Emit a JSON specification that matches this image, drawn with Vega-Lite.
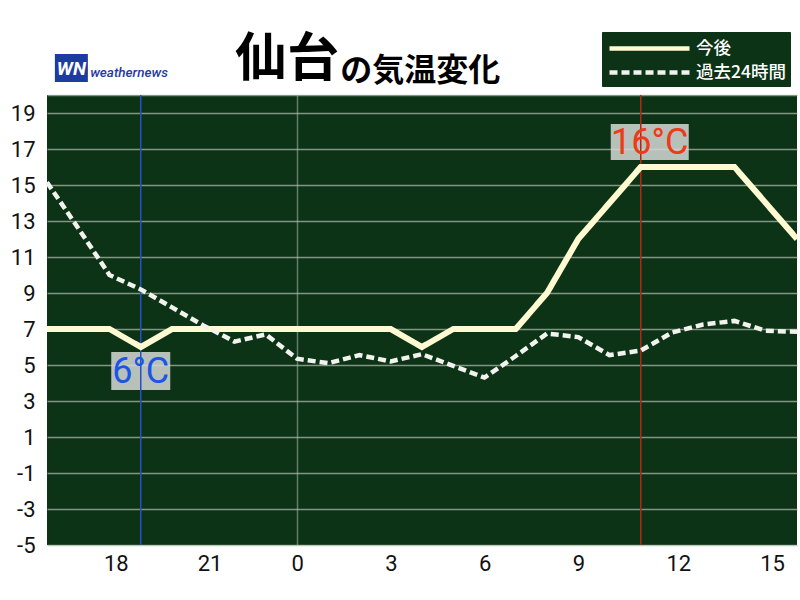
{
  "$schema": "https://vega.github.io/schema/vega-lite/v6.json",
  "width": 750,
  "height": 450,
  "autosize": {"type": "none"},
  "padding": {"left": 47, "top": 95, "right": 3, "bottom": 55},
  "background": "#ffffff",
  "title": {
    "text": "仙台",
    "anchor": "start",
    "frame": "group",
    "dx": 188,
    "offset": -55,
    "font": "Noto Sans CJK JP",
    "fontSize": 52,
    "fontWeight": "bold",
    "color": "#000000"
  },
  "config": {
    "view": {"fill": "#0c3316", "stroke": null},
    "axis": {
      "labelFont": "Roboto",
      "labelFontSize": 22,
      "labelColor": "#111111",
      "labelOverlap": false,
      "ticks": false,
      "domain": false,
      "title": null,
      "gridColor": "#a9b8a9",
      "gridOpacity": 0.75,
      "gridWidth": 1.5
    }
  },
  "datasets": {
    "temps": [
      {"hour": 16, "temp": 7, "series": "今後"},
      {"hour": 17, "temp": 7, "series": "今後"},
      {"hour": 18, "temp": 7, "series": "今後"},
      {"hour": 19, "temp": 6, "series": "今後"},
      {"hour": 20, "temp": 7, "series": "今後"},
      {"hour": 21, "temp": 7, "series": "今後"},
      {"hour": 22, "temp": 7, "series": "今後"},
      {"hour": 23, "temp": 7, "series": "今後"},
      {"hour": 24, "temp": 7, "series": "今後"},
      {"hour": 25, "temp": 7, "series": "今後"},
      {"hour": 26, "temp": 7, "series": "今後"},
      {"hour": 27, "temp": 7, "series": "今後"},
      {"hour": 28, "temp": 6, "series": "今後"},
      {"hour": 29, "temp": 7, "series": "今後"},
      {"hour": 30, "temp": 7, "series": "今後"},
      {"hour": 31, "temp": 7, "series": "今後"},
      {"hour": 32, "temp": 9, "series": "今後"},
      {"hour": 33, "temp": 12, "series": "今後"},
      {"hour": 34, "temp": 14, "series": "今後"},
      {"hour": 35, "temp": 16, "series": "今後"},
      {"hour": 36, "temp": 16, "series": "今後"},
      {"hour": 37, "temp": 16, "series": "今後"},
      {"hour": 38, "temp": 16, "series": "今後"},
      {"hour": 39, "temp": 14, "series": "今後"},
      {"hour": 40, "temp": 12, "series": "今後"},
      {"hour": 16, "temp": 15.15, "series": "過去24時間"},
      {"hour": 17, "temp": 12.6, "series": "過去24時間"},
      {"hour": 18, "temp": 10, "series": "過去24時間"},
      {"hour": 19, "temp": 9.2, "series": "過去24時間"},
      {"hour": 20, "temp": 8.2, "series": "過去24時間"},
      {"hour": 21, "temp": 7.2, "series": "過去24時間"},
      {"hour": 22, "temp": 6.3, "series": "過去24時間"},
      {"hour": 23, "temp": 6.7, "series": "過去24時間"},
      {"hour": 24, "temp": 5.35, "series": "過去24時間"},
      {"hour": 25, "temp": 5.1, "series": "過去24時間"},
      {"hour": 26, "temp": 5.55, "series": "過去24時間"},
      {"hour": 27, "temp": 5.2, "series": "過去24時間"},
      {"hour": 28, "temp": 5.6, "series": "過去24時間"},
      {"hour": 29, "temp": 4.95, "series": "過去24時間"},
      {"hour": 30, "temp": 4.3, "series": "過去24時間"},
      {"hour": 31, "temp": 5.5, "series": "過去24時間"},
      {"hour": 32, "temp": 6.75, "series": "過去24時間"},
      {"hour": 33, "temp": 6.55, "series": "過去24時間"},
      {"hour": 34, "temp": 5.55, "series": "過去24時間"},
      {"hour": 35, "temp": 5.8, "series": "過去24時間"},
      {"hour": 36, "temp": 6.8, "series": "過去24時間"},
      {"hour": 37, "temp": 7.25, "series": "過去24時間"},
      {"hour": 38, "temp": 7.45, "series": "過去24時間"},
      {"hour": 39, "temp": 6.9, "series": "過去24時間"},
      {"hour": 40, "temp": 6.85, "series": "過去24時間"}
    ],
    "marks": [
      {"hour": 19, "temp": 6, "label": "6°C", "kind": "min"},
      {"hour": 35, "temp": 16, "label": "16°C", "kind": "max"}
    ],
    "logo": [{"badge": "WN", "name": "weathernews", "heading": "の気温変化"}]
  },
  "layer": [
    {
      "data": {"name": "marks"},
      "transform": [{"filter": "datum.kind == 'min'"}],
      "mark": {"type": "rect", "width": 59, "height": 38, "yOffset": 24, "fill": "#d6d9d6", "opacity": 0.85},
      "encoding": {
        "x": {"field": "hour", "type": "quantitative"},
        "y": {"field": "temp", "type": "quantitative"}
      }
    },
    {
      "data": {"name": "marks"},
      "transform": [{"filter": "datum.kind == 'max'"}],
      "mark": {"type": "rect", "width": 78, "height": 36, "xOffset": 9, "yOffset": -25, "fill": "#d6d9d6", "opacity": 0.85},
      "encoding": {
        "x": {"field": "hour", "type": "quantitative"},
        "y": {"field": "temp", "type": "quantitative"}
      }
    },
    {
      "data": {"name": "marks"},
      "mark": {"type": "rule", "strokeWidth": 1.5},
      "encoding": {
        "x": {"field": "hour", "type": "quantitative"},
        "color": {"condition": {"test": "datum.kind == 'min'", "value": "#2452c4"}, "value": "#b02814"}
      }
    },
    {
      "data": {"name": "temps"},
      "mark": {"type": "line"},
      "encoding": {
        "x": {
          "field": "hour",
          "type": "quantitative",
          "scale": {"domain": [16, 40], "nice": false, "zero": false},
          "axis": {
            "values": [18, 21, 24, 27, 30, 33, 36, 39],
            "tickCount": 30,
            "labelExpr": "datum.value % 24",
            "labelAlign": "left",
            "labelOffset": -6,
            "labelPadding": 8,
            "grid": true,
            "gridOpacity": {"condition": {"test": "datum.value == 24", "value": 0.75}, "value": 0}
          }
        },
        "y": {
          "field": "temp",
          "type": "quantitative",
          "scale": {"domain": [-5, 20], "nice": false, "zero": false},
          "axis": {
            "values": [-5, -3, -1, 1, 3, 5, 7, 9, 11, 13, 15, 17, 19, 20],
            "tickCount": 30,
            "labelExpr": "datum.value == 20 ? '' : datum.value",
            "labelPadding": 12,
            "grid": true
          }
        },
        "color": {
          "field": "series",
          "type": "nominal",
          "scale": {"domain": ["今後", "過去24時間"], "range": ["#fffad2", "#f2f2ee"]},
          "legend": {
            "orient": "none",
            "legendX": 555,
            "legendY": -63,
            "title": null,
            "fillColor": "#0c3316",
            "strokeColor": "#0c3316",
            "padding": 4,
            "labelColor": "#ffffff",
            "labelFont": "Noto Sans CJK JP",
            "labelFontSize": 17.5,
            "labelFontWeight": 500,
            "symbolType": "M-4,0L4,0",
            "symbolSize": 400,
            "symbolOffset": 31,
            "symbolStrokeWidth": 4.5,
            "labelOffset": 34,
            "rowPadding": 2
          }
        },
        "strokeDash": {
          "field": "series",
          "type": "nominal",
          "scale": {"domain": ["今後", "過去24時間"], "range": [[1, 0], [8, 4]]},
          "legend": {
            "orient": "none",
            "legendX": 555,
            "legendY": -63,
            "title": null,
            "fillColor": "#0c3316",
            "strokeColor": "#0c3316",
            "padding": 4,
            "labelColor": "#ffffff",
            "labelFont": "Noto Sans CJK JP",
            "labelFontSize": 17.5,
            "labelFontWeight": 500,
            "symbolType": "M-4,0L4,0",
            "symbolSize": 400,
            "symbolOffset": 31,
            "symbolStrokeWidth": 4.5,
            "labelOffset": 34,
            "rowPadding": 2
          }
        },
        "strokeWidth": {"condition": {"test": "datum.series == '今後'", "value": 6}, "value": 4.5},
        "order": {"field": "hour", "type": "quantitative"}
      }
    },
    {
      "data": {"name": "marks"},
      "transform": [{"filter": "datum.kind == 'min'"}],
      "mark": {"type": "text", "font": "Roboto", "fontSize": 36, "yOffset": 25, "baseline": "middle", "align": "center", "color": "#1a55e6"},
      "encoding": {
        "x": {"field": "hour", "type": "quantitative"},
        "y": {"field": "temp", "type": "quantitative"},
        "text": {"field": "label"}
      }
    },
    {
      "data": {"name": "marks"},
      "transform": [{"filter": "datum.kind == 'max'"}],
      "mark": {"type": "text", "font": "Roboto", "fontSize": 36, "xOffset": 9, "yOffset": -24, "baseline": "middle", "align": "center", "color": "#ee3a16"},
      "encoding": {
        "x": {"field": "hour", "type": "quantitative"},
        "y": {"field": "temp", "type": "quantitative"},
        "text": {"field": "label"}
      }
    },
    {
      "data": {"name": "logo"},
      "mark": {"type": "rect", "width": 33, "height": 28, "fill": "#1e3ca0"},
      "encoding": {
        "x": {"datum": 16.78, "type": "quantitative"},
        "y": {"datum": 21.5, "type": "quantitative"}
      }
    },
    {
      "data": {"name": "logo"},
      "mark": {"type": "text", "font": "Roboto", "fontSize": 19, "fontWeight": "bold", "fontStyle": "italic", "color": "#ffffff", "baseline": "middle", "align": "center"},
      "encoding": {
        "x": {"datum": 16.78, "type": "quantitative"},
        "y": {"datum": 21.45, "type": "quantitative"},
        "text": {"field": "badge"}
      }
    },
    {
      "data": {"name": "logo"},
      "mark": {"type": "text", "font": "Roboto", "fontSize": 13.5, "fontWeight": 500, "fontStyle": "italic", "color": "#1e3ca0", "baseline": "middle", "align": "left"},
      "encoding": {
        "x": {"datum": 17.38, "type": "quantitative"},
        "y": {"datum": 21.2, "type": "quantitative"},
        "text": {"field": "name"}
      }
    },
    {
      "data": {"name": "logo"},
      "mark": {"type": "text", "font": "Noto Sans CJK JP", "fontSize": 32, "fontWeight": "bold", "color": "#000000", "baseline": "alphabetic", "align": "left"},
      "encoding": {
        "x": {"datum": 25.38, "type": "quantitative"},
        "y": {"datum": 20.8, "type": "quantitative"},
        "text": {"field": "heading"}
      }
    }
  ]
}
